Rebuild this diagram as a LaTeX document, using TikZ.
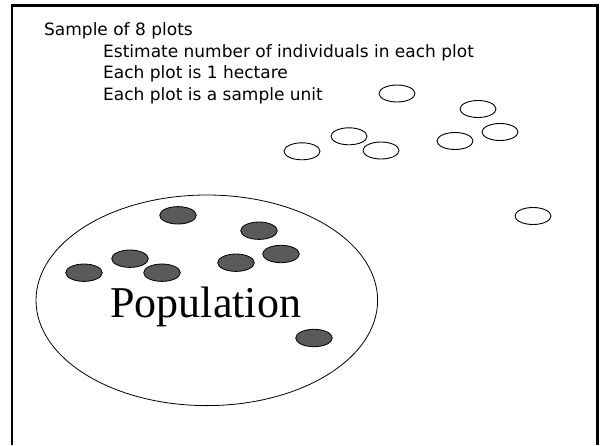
\documentclass[tikz,border=0pt]{standalone}
\usepackage{fontspec}
\setmainfont{DejaVu Sans}
\newfontfamily\popfont{Liberation Serif}
\usetikzlibrary{shapes.geometric}
\definecolor{dotgray}{HTML}{5A5A5A}
\tikzset{
  plotunit/.style={ellipse, draw=black, line width=0.9pt, minimum width=36pt, minimum height=17pt, inner sep=0pt},
  indiv/.style={ellipse, draw=black, fill=dotgray, line width=0.8pt, minimum width=36.6pt, minimum height=17.4pt, inner sep=0pt},
  txt/.style={anchor=base west, inner sep=0pt, font=\fontsize{17pt}{20pt}\selectfont}
}
\begin{document}
\begin{tikzpicture}[x=1pt,y=-1pt]
\useasboundingbox[fill=white] (0,0) rectangle (602,445);
\draw[line width=2.3pt] (12.2,445) -- (12.2,5.6) -- (597.5,5.6) -- (597.5,445);
% texts
\node[txt] (t1) at (44,35) {Sample of 8 plots};
\node[txt] (t2) at (103,57) {Estimate number of individuals in each plot};
\node[txt] (t3) at (103,78.5) {Each plot is 1 hectare};
\node[txt] (t4) at (103,100) {Each plot is a sample unit};
% population
\node[ellipse, draw=black, line width=0.8pt, minimum width=341.6pt, minimum height=210.6pt, inner sep=0pt] (pop) at (206.8,300.3) {};
\node[anchor=base, inner sep=0pt, font=\popfont\fontsize{44pt}{50pt}\selectfont] (poptext) at (205.8,317.3) {Population};
% individuals
\node[indiv] (f1) at (178,215.3) {};
\node[indiv] (f2) at (259,230.7) {};
\node[indiv] (f3) at (130,258.7) {};
\node[indiv] (f4) at (84,272.7) {};
\node[indiv] (f5) at (162,272.7) {};
\node[indiv] (f6) at (236,262.7) {};
\node[indiv] (f7) at (281,254) {};
\node[indiv] (f8) at (314,338) {};
% sample plots
\node[plotunit] (s1) at (397,93.5) {};
\node[plotunit] (s2) at (478,109) {};
\node[plotunit] (s3) at (500,132) {};
\node[plotunit] (s4) at (455,141) {};
\node[plotunit] (s5) at (349,136.3) {};
\node[plotunit] (s6) at (381,150.5) {};
\node[plotunit] (s7) at (302,151.3) {};
\node[plotunit] (s8) at (533,216) {};
\end{tikzpicture}
\end{document}
